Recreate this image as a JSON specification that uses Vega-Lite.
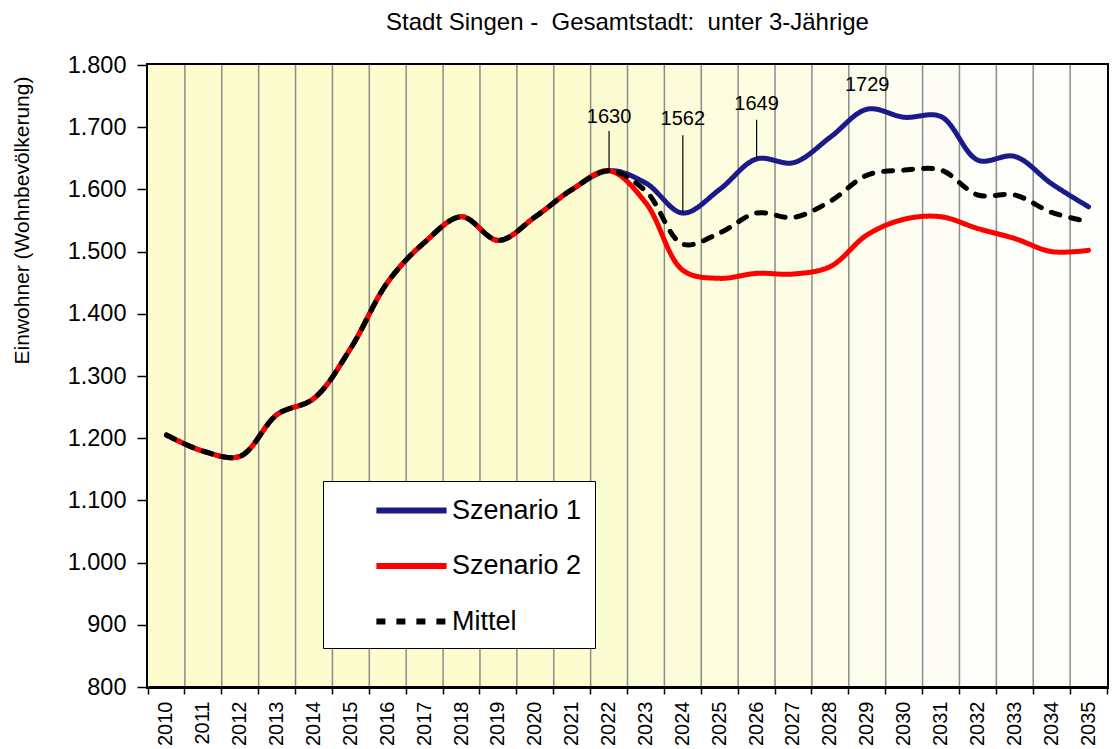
{
  "$schema": "https://vega.github.io/schema/vega-lite/v6.json",
  "autosize": {"type": "none"},
  "width": 959,
  "height": 622,
  "padding": {"left": 148, "top": 65, "right": 6, "bottom": 62},
  "background": "white",
  "title": {
    "text": "Stadt Singen -\u00a0 Gesamtstadt:\u00a0 unter 3-Jährige",
    "font": "Liberation Sans",
    "fontSize": 24,
    "fontWeight": "normal",
    "color": "#000000",
    "frame": "group",
    "anchor": "middle",
    "offset": 18
  },
  "datasets": {
    "series": [
      {"year": 2010, "series": "Szenario 1", "value": 1205},
      {"year": 2011, "series": "Szenario 1", "value": 1179},
      {"year": 2012, "series": "Szenario 1", "value": 1171},
      {"year": 2013, "series": "Szenario 1", "value": 1238},
      {"year": 2014, "series": "Szenario 1", "value": 1264},
      {"year": 2015, "series": "Szenario 1", "value": 1345},
      {"year": 2016, "series": "Szenario 1", "value": 1451},
      {"year": 2017, "series": "Szenario 1", "value": 1515},
      {"year": 2018, "series": "Szenario 1", "value": 1556},
      {"year": 2019, "series": "Szenario 1", "value": 1518},
      {"year": 2020, "series": "Szenario 1", "value": 1556},
      {"year": 2021, "series": "Szenario 1", "value": 1600},
      {"year": 2022, "series": "Szenario 1", "value": 1630},
      {"year": 2023, "series": "Szenario 1", "value": 1610},
      {"year": 2024, "series": "Szenario 1", "value": 1562},
      {"year": 2025, "series": "Szenario 1", "value": 1600},
      {"year": 2026, "series": "Szenario 1", "value": 1649},
      {"year": 2027, "series": "Szenario 1", "value": 1643},
      {"year": 2028, "series": "Szenario 1", "value": 1684},
      {"year": 2029, "series": "Szenario 1", "value": 1729},
      {"year": 2030, "series": "Szenario 1", "value": 1716},
      {"year": 2031, "series": "Szenario 1", "value": 1717},
      {"year": 2032, "series": "Szenario 1", "value": 1647},
      {"year": 2033, "series": "Szenario 1", "value": 1653},
      {"year": 2034, "series": "Szenario 1", "value": 1609},
      {"year": 2035, "series": "Szenario 1", "value": 1572},
      {"year": 2010, "series": "Szenario 2", "value": 1205},
      {"year": 2011, "series": "Szenario 2", "value": 1179},
      {"year": 2012, "series": "Szenario 2", "value": 1171},
      {"year": 2013, "series": "Szenario 2", "value": 1238},
      {"year": 2014, "series": "Szenario 2", "value": 1264},
      {"year": 2015, "series": "Szenario 2", "value": 1345},
      {"year": 2016, "series": "Szenario 2", "value": 1451},
      {"year": 2017, "series": "Szenario 2", "value": 1515},
      {"year": 2018, "series": "Szenario 2", "value": 1556},
      {"year": 2019, "series": "Szenario 2", "value": 1518},
      {"year": 2020, "series": "Szenario 2", "value": 1556},
      {"year": 2021, "series": "Szenario 2", "value": 1600},
      {"year": 2022, "series": "Szenario 2", "value": 1630},
      {"year": 2023, "series": "Szenario 2", "value": 1578},
      {"year": 2024, "series": "Szenario 2", "value": 1470},
      {"year": 2025, "series": "Szenario 2", "value": 1457},
      {"year": 2026, "series": "Szenario 2", "value": 1465},
      {"year": 2027, "series": "Szenario 2", "value": 1464},
      {"year": 2028, "series": "Szenario 2", "value": 1476},
      {"year": 2029, "series": "Szenario 2", "value": 1527},
      {"year": 2030, "series": "Szenario 2", "value": 1552},
      {"year": 2031, "series": "Szenario 2", "value": 1556},
      {"year": 2032, "series": "Szenario 2", "value": 1537},
      {"year": 2033, "series": "Szenario 2", "value": 1521},
      {"year": 2034, "series": "Szenario 2", "value": 1500},
      {"year": 2035, "series": "Szenario 2", "value": 1502},
      {"year": 2010, "series": "Mittel", "value": 1205},
      {"year": 2011, "series": "Mittel", "value": 1179},
      {"year": 2012, "series": "Mittel", "value": 1171},
      {"year": 2013, "series": "Mittel", "value": 1238},
      {"year": 2014, "series": "Mittel", "value": 1264},
      {"year": 2015, "series": "Mittel", "value": 1345},
      {"year": 2016, "series": "Mittel", "value": 1451},
      {"year": 2017, "series": "Mittel", "value": 1515},
      {"year": 2018, "series": "Mittel", "value": 1556},
      {"year": 2019, "series": "Mittel", "value": 1518},
      {"year": 2020, "series": "Mittel", "value": 1556},
      {"year": 2021, "series": "Mittel", "value": 1600},
      {"year": 2022, "series": "Mittel", "value": 1630},
      {"year": 2023, "series": "Mittel", "value": 1597},
      {"year": 2024, "series": "Mittel", "value": 1512},
      {"year": 2025, "series": "Mittel", "value": 1530},
      {"year": 2026, "series": "Mittel", "value": 1562},
      {"year": 2027, "series": "Mittel", "value": 1555},
      {"year": 2028, "series": "Mittel", "value": 1581},
      {"year": 2029, "series": "Mittel", "value": 1623},
      {"year": 2030, "series": "Mittel", "value": 1631},
      {"year": 2031, "series": "Mittel", "value": 1631},
      {"year": 2032, "series": "Mittel", "value": 1591},
      {"year": 2033, "series": "Mittel", "value": 1591},
      {"year": 2034, "series": "Mittel", "value": 1563},
      {"year": 2035, "series": "Mittel", "value": 1548}
    ],
    "years": [
      {"year": 2010}, {"year": 2011}, {"year": 2012}, {"year": 2013}, {"year": 2014},
      {"year": 2015}, {"year": 2016}, {"year": 2017}, {"year": 2018}, {"year": 2019},
      {"year": 2020}, {"year": 2021}, {"year": 2022}, {"year": 2023}, {"year": 2024},
      {"year": 2025}, {"year": 2026}, {"year": 2027}, {"year": 2028}, {"year": 2029},
      {"year": 2030}, {"year": 2031}, {"year": 2032}, {"year": 2033}, {"year": 2034},
      {"year": 2035}
    ],
    "notes": [
      {"year": 2022, "value": 1630, "label": "1630", "labelAt": 1716, "leaderTop": 1694},
      {"year": 2024, "value": 1562, "label": "1562", "labelAt": 1713, "leaderTop": 1687},
      {"year": 2026, "value": 1649, "label": "1649", "labelAt": 1737, "leaderTop": 1712},
      {"year": 2029, "value": 1729, "label": "1729", "labelAt": 1768, "leaderTop": null}
    ]
  },
  "layer": [
    {
      "data": {"name": "years"},
      "mark": {"type": "rect"},
      "encoding": {
        "x": {"field": "year", "type": "ordinal"},
        "y": {"datum": 800, "type": "quantitative", "scale": {"domain": [800, 1800], "zero": false, "nice": false}},
        "y2": {"datum": 1800},
        "fill": {
          "field": "year",
          "type": "quantitative",
          "scale": {"domain": [2021, 2032], "range": ["#fcfccf", "#fdfdf9"], "clamp": true},
          "legend": null
        }
      }
    },
    {
      "data": {"name": "years"},
      "transform": [{"filter": "datum.year < 2035"}],
      "mark": {"type": "rule", "color": "#8c8c8c", "strokeWidth": 1.5},
      "encoding": {
        "x": {"field": "year", "type": "ordinal", "bandPosition": 1},
        "y": {"datum": 800, "type": "quantitative"},
        "y2": {"datum": 1800}
      }
    },
    {
      "data": {"name": "series"},
      "mark": {"type": "line", "strokeWidth": 5, "interpolate": "catmull-rom", "strokeCap": "round", "strokeJoin": "round"},
      "encoding": {
        "x": {"field": "year", "type": "ordinal"},
        "y": {
          "field": "value",
          "type": "quantitative",
          "scale": {"domain": [800, 1800], "zero": false, "nice": false},
          "axis": {
            "title": "Einwohner (Wohnbevölkerung)",
            "values": [800, 900, 1000, 1100, 1200, 1300, 1400, 1500, 1600, 1700, 1800]
          }
        },
        "stroke": {
          "field": "series",
          "type": "nominal",
          "title": null,
          "scale": {"domain": ["Szenario 1", "Szenario 2", "Mittel"], "range": ["#1a1a8a", "#ff0000", "#000000"]}
        },
        "strokeDash": {
          "field": "series",
          "type": "nominal",
          "title": null,
          "scale": {"domain": ["Szenario 1", "Szenario 2", "Mittel"], "range": [[1, 0], [1, 0], [9, 11]]}
        },
        "order": {"field": "year"}
      }
    },
    {
      "data": {"name": "notes"},
      "transform": [{"filter": "datum.leaderTop != null"}],
      "mark": {"type": "rule", "color": "#000000", "strokeWidth": 1.2},
      "encoding": {
        "x": {"field": "year", "type": "ordinal"},
        "y": {"field": "value", "type": "quantitative"},
        "y2": {"field": "leaderTop"}
      }
    },
    {
      "data": {"name": "notes"},
      "mark": {"type": "text", "font": "Liberation Sans", "fontSize": 20, "color": "#000000", "baseline": "middle", "align": "center"},
      "encoding": {
        "x": {"field": "year", "type": "ordinal"},
        "y": {"field": "labelAt", "type": "quantitative"},
        "text": {"field": "label"}
      }
    }
  ],
  "resolve": {"scale": {"x": "shared", "y": "shared"}},
  "config": {
    "view": {"stroke": "#000000", "strokeWidth": 4, "fill": "#ffffff"},
    "scale": {"bandPaddingInner": 0, "bandPaddingOuter": 0},
    "axisX": {
      "title": null,
      "bandPosition": 1,
      "tickExtra": true,
      "labelAngle": -90,
      "labelAlign": "right",
      "labelBaseline": "middle",
      "labelFont": "Liberation Sans",
      "labelFontSize": 20,
      "labelColor": "#000000",
      "labelPadding": 7,
      "tickSize": 7,
      "tickColor": "#000000",
      "tickWidth": 1.5,
      "domainColor": "#000000",
      "domainWidth": 3,
      "grid": false
    },
    "axisY": {
      "titleFont": "Liberation Sans",
      "titleFontSize": 21,
      "titleFontWeight": "normal",
      "titleColor": "#000000",
      "titleAngle": 270,
      "titleX": -126,
      "titleY": 155,
      "titleAlign": "center",
      "titleBaseline": "middle",
      "labelFont": "Liberation Sans",
      "labelFontSize": 23.5,
      "labelColor": "#000000",
      "labelPadding": 11,
      "labelExpr": "replace(format(datum.value, ','), ',', '.')",
      "tickSize": 11,
      "tickColor": "#000000",
      "tickWidth": 1.5,
      "domainColor": "#000000",
      "domainWidth": 2,
      "grid": false
    },
    "legend": {
      "orient": "none",
      "legendX": 175,
      "legendY": 416,
      "fillColor": "#ffffff",
      "strokeColor": "#000000",
      "padding": 13,
      "labelFont": "Liberation Sans",
      "labelFontSize": 27,
      "labelColor": "#000000",
      "labelLimit": 400,
      "symbolType": "M-2.6,0H2.6",
      "symbolSize": 729,
      "symbolStrokeWidth": 6,
      "symbolOffset": 59,
      "labelOffset": 24,
      "rowPadding": 25.5
    }
  }
}
